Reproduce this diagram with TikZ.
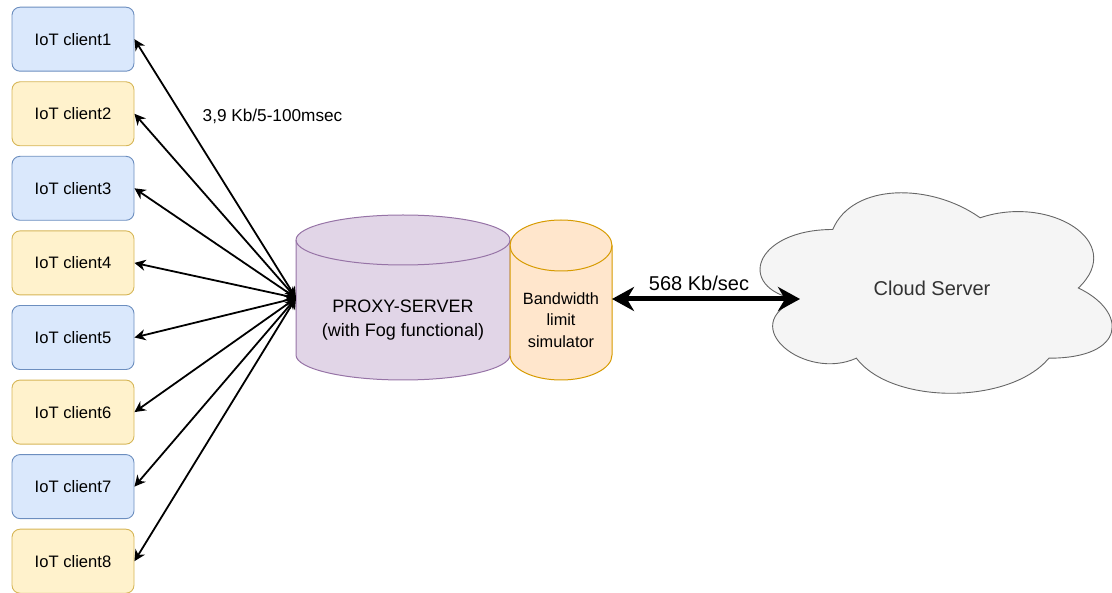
\documentclass[tikz,border=0pt]{standalone}
\usepackage{fontspec}
\setmainfont{Liberation Sans}
\usetikzlibrary{arrows.meta}
\definecolor{clientBlue}{HTML}{DAE8FC}
\definecolor{clientBlueLine}{HTML}{6C8EBF}
\definecolor{clientYellow}{HTML}{FFF2CC}
\definecolor{clientYellowLine}{HTML}{D6B656}
\definecolor{proxyFill}{HTML}{E1D5E7}
\definecolor{proxyLine}{HTML}{9673A6}
\definecolor{limitFill}{HTML}{FFE6CC}
\definecolor{limitLine}{HTML}{D79B00}
\definecolor{cloudFill}{HTML}{F5F5F5}
\definecolor{cloudLine}{HTML}{666666}
\definecolor{cloudText}{HTML}{333333}
\begin{document}
\begin{tikzpicture}[x=1pt, y=-1pt,
	client/.style = {rectangle, rounded corners=8pt, line width=0.9pt, minimum width=122pt, minimum height=64pt, font=\fontsize{16.6}{20}\selectfont},
	blueclient/.style = {client, fill=clientBlue, draw=clientBlueLine},
	yellowclient/.style = {client, fill=clientYellow, draw=clientYellowLine},
	link/.style = {{Stealth[length=11pt, width=11pt, inset=3.5pt]}-{Stealth[length=11pt, width=11pt, inset=3.5pt]}, line width=1.8pt},
	uplink/.style = {{Stealth[length=22pt, width=24pt, inset=7pt]}-{Stealth[length=22pt, width=24pt, inset=7pt]}, line width=5pt},
	caption/.style = {font=\fontsize{17.2}{21}\selectfont}]
					\useasboundingbox (0,0) rectangle (1112,593);
					\node (c1) [blueclient] at (73,39.2) {IoT client1};
					\node (c2) [yellowclient] at (73,113.8) {IoT client2};
					\node (c3) [blueclient] at (73,188.3) {IoT client3};
					\node (c4) [yellowclient] at (73,262.9) {IoT client4};
					\node (c5) [blueclient] at (73,337.5) {IoT client5};
					\node (c6) [yellowclient] at (73,412.1) {IoT client6};
					\node (c7) [blueclient] at (73,486.6) {IoT client7};
					\node (c8) [yellowclient] at (73,561.2) {IoT client8};
					\draw[fill=proxyFill, draw=proxyLine, line width=1pt] (296,240) -- (296,355) arc[start angle=180, end angle=0, x radius=107, y radius=25] -- (510,240) arc[start angle=360, end angle=180, x radius=107, y radius=25] -- cycle;
					\draw[draw=proxyLine, line width=1pt] (296,240) arc[start angle=180, end angle=0, x radius=107, y radius=25];
					\draw[fill=limitFill, draw=limitLine, line width=1pt] (510,245.5) -- (510,355) arc[start angle=180, end angle=0, x radius=51, y radius=25] -- (612,245.5) arc[start angle=360, end angle=180, x radius=51, y radius=25.5] -- cycle;
					\draw[draw=limitLine, line width=1pt] (510,245.5) arc[start angle=180, end angle=0, x radius=51, y radius=25.5];
					\node (proxy) [align=center, font=\fontsize{18}{24.4}\selectfont] at (403,320) {PROXY-SERVER\\(with Fog functional)};
					\node (limit) [align=center, font=\fontsize{16.3}{21.3}\selectfont] at (561,320) {Bandwidth\\limit\\simulator};
					\coordinate (proxyin) at (296,298);
					\coordinate (limitout) at (612,299);
					\begin{scope}[shift={(734.5pt,-171pt)}, x=393pt, y=-234pt]
						\draw[fill=cloudFill, draw=cloudLine, line width=0.9pt] (0.25,0.25) .. controls (0.05,0.25) and (0,0.5) .. (0.16,0.55) .. controls (0,0.66) and (0.18,0.9) .. (0.31,0.8) .. controls (0.4,1) and (0.7,1) .. (0.8,0.8) .. controls (1,0.8) and (1,0.6) .. (0.875,0.5) .. controls (1,0.3) and (0.8,0.1) .. (0.625,0.2) .. controls (0.5,0.05) and (0.3,0.05) .. (0.25,0.25) -- cycle;
					\end{scope}
					\node (cloud) [text=cloudText, font=\fontsize{20}{24}\selectfont] at (932,288) {Cloud Server};
					\coordinate (cloudin) at (800,299);
					\draw[link] (c1.east) -- (proxyin);
					\draw[link] (c2.east) -- (proxyin);
					\draw[link] (c3.east) -- (proxyin);
					\draw[link] (c4.east) -- (proxyin);
					\draw[link] (c5.east) -- (proxyin);
					\draw[link] (c6.east) -- (proxyin);
					\draw[link] (c7.east) -- (proxyin);
					\draw[link] (c8.east) -- (proxyin);
					\draw[uplink] (limitout) -- (cloudin);
					\node (ratelabel) [caption] at (272.5,116) {3,9 Kb/5-100msec};
					\node (uplabel) [font=\fontsize{20}{24}\selectfont] at (699,283) {568 Kb/sec};
				\end{tikzpicture}
\end{document}
